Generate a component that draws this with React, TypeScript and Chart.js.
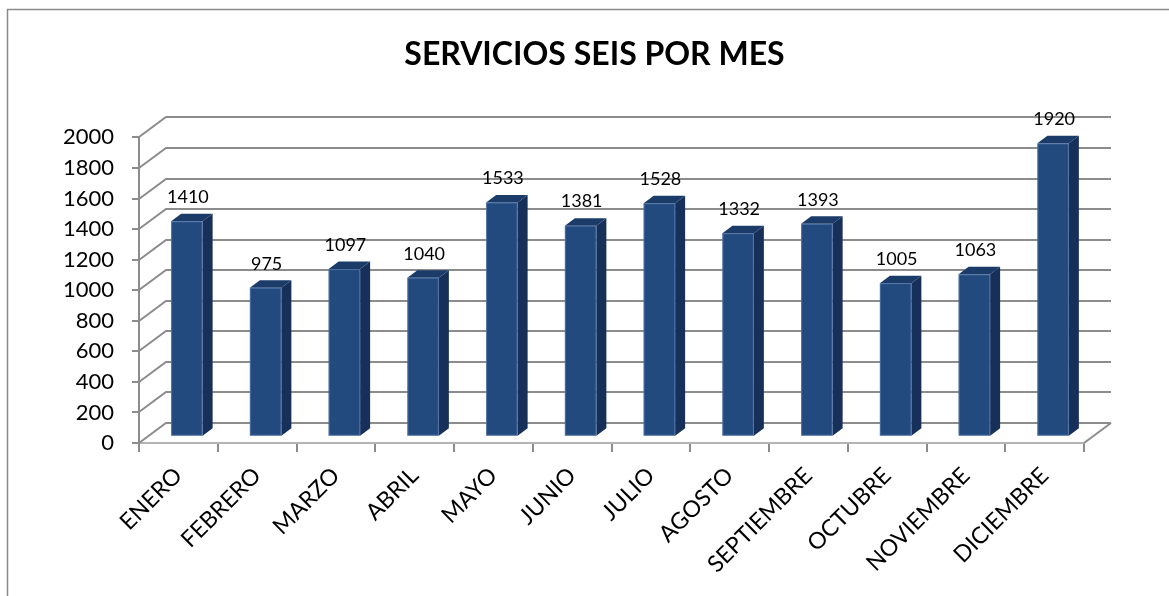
import React, { useEffect, useRef } from 'react';
import { Chart, registerables } from 'chart.js';

Chart.register(...registerables);

const chartTitle = 'SERVICIOS SEIS POR MES';
const months = ['ENERO', 'FEBRERO', 'MARZO', 'ABRIL', 'MAYO', 'JUNIO', 'JULIO', 'AGOSTO', 'SEPTIEMBRE', 'OCTUBRE', 'NOVIEMBRE', 'DICIEMBRE'];
const servicios = [1410, 975, 1097, 1040, 1533, 1381, 1528, 1332, 1393, 1005, 1063, 1920];
const yMin = 0;
const yMax = 2000;
const yStep = 200;

// 3D projection offsets
const DX = 27;
const DY = 20;
const BAR_OX = 8.5;
const BAR_OY = 6.3;
const BAR_DX = 10;
const BAR_DY = 7.5;

const GRID = '#8c8c8c';
const FRONT = '#224a7e';
const SIDE = '#17305a';
const TOP = '#1b3b68';
const FONT = 'Lato, "Open Sans", sans-serif';

const plugin3d = {
  id: 'plugin3d',
  beforeDraw(chart: any) {
    const ctx = chart.ctx;
    ctx.save();
    ctx.fillStyle = '#ffffff';
    ctx.fillRect(0, 0, chart.width, chart.height);
    ctx.strokeStyle = '#8a8a8a';
    ctx.lineWidth = 1.5;
    ctx.beginPath();
    ctx.moveTo(7.5, chart.height + 5);
    ctx.lineTo(7.5, 9.5);
    ctx.lineTo(chart.width + 5, 9.5);
    ctx.stroke();
    ctx.restore();
  },
  beforeDatasetsDraw(chart: any) {
    const { ctx, chartArea, scales } = chart;
    const { left, right, bottom } = chartArea;
    const y = scales.y;
    ctx.save();
    ctx.strokeStyle = GRID;
    ctx.lineWidth = 2;
    y.ticks.forEach((t: any) => {
      const py = Math.round(y.getPixelForValue(t.value));
      ctx.beginPath();
      ctx.moveTo(left, py);
      ctx.lineTo(left + DX, py - DY);
      ctx.lineTo(right + DX, py - DY);
      ctx.stroke();
    });
    ctx.beginPath();
    ctx.moveTo(right, bottom);
    ctx.lineTo(right + DX, bottom - DY);
    ctx.stroke();
    ctx.restore();
  },
  afterDatasetsDraw(chart: any) {
    const { ctx } = chart;
    const meta = chart.getDatasetMeta(0);
    const data = chart.data.datasets[0].data;
    ctx.save();
    meta.data.forEach((el: any, i: number) => {
      const { x, y, base, width } = el.getProps(['x', 'y', 'base', 'width'], true);
      const l = x - width / 2 + BAR_OX;
      const r = x + width / 2 + BAR_OX;
      const t = y - BAR_OY;
      const b = base - BAR_OY;
      // side
      ctx.fillStyle = SIDE;
      ctx.beginPath();
      ctx.moveTo(r, t);
      ctx.lineTo(r + BAR_DX, t - BAR_DY);
      ctx.lineTo(r + BAR_DX, b - BAR_DY);
      ctx.lineTo(r, b);
      ctx.closePath();
      ctx.fill();
      // top
      ctx.fillStyle = TOP;
      ctx.beginPath();
      ctx.moveTo(l, t);
      ctx.lineTo(l + BAR_DX, t - BAR_DY);
      ctx.lineTo(r + BAR_DX, t - BAR_DY);
      ctx.lineTo(r, t);
      ctx.closePath();
      ctx.fill();
      // front
      ctx.fillStyle = FRONT;
      ctx.fillRect(l, t, r - l, b - t);
      ctx.strokeStyle = 'rgba(120,150,200,0.5)';
      ctx.lineWidth = 1;
      ctx.strokeRect(l + 0.5, t + 0.5, r - l - 1, b - t - 1);
      // label
      ctx.fillStyle = '#000';
      ctx.font = `18px ${FONT}`;
      ctx.textAlign = 'center';
      ctx.textBaseline = 'middle';
      ctx.fillText(String(data[i]), x + BAR_OX + 1, t - 24);
    });
    ctx.restore();
  },
};

export default function App() {
  const ref = useRef<HTMLCanvasElement>(null);
  useEffect(() => {
    if (!ref.current) return;
    const chart = new Chart(ref.current, {
      type: 'bar',
      data: {
        labels: months,
        datasets: [
          {
            data: servicios,
            backgroundColor: 'rgba(0,0,0,0)',
            borderWidth: 0,
            barPercentage: 0.4,
            categoryPercentage: 1,
          },
        ],
      },
      options: {
        responsive: false,
        animation: false,
        devicePixelRatio: 1,
        layout: { padding: { left: 20, right: 0, top: 0, bottom: 0 } },
        plugins: {
          legend: { display: false },
          tooltip: { enabled: false },
          title: {
            display: true,
            text: chartTitle,
            color: '#000',
            font: { family: FONT, size: 32, weight: 'bold', lineHeight: 1.2 },
            padding: { top: 35, bottom: 64 },
          },
        },
        scales: {
          x: {
            grid: { drawOnChartArea: false, drawTicks: true, tickLength: 9, color: GRID, lineWidth: 2, offset: true },
            border: { display: true, color: '#b4b4b4', width: 2 },
            ticks: { color: '#000', font: { family: FONT, size: 23 }, maxRotation: 45, minRotation: 45, autoSkip: false, padding: 10 },
            afterFit: (s: any) => { s.height = 153; },
          },
          y: {
            min: yMin,
            max: yMax,
            grid: { drawOnChartArea: false, drawTicks: true, tickLength: 7, color: GRID, lineWidth: 2 },
            border: { display: true, color: GRID, width: 2 },
            ticks: { stepSize: yStep, color: '#000', font: { family: FONT, size: 22 }, padding: 18, callback: (v: any) => String(v) },
            afterFit: (s: any) => { s.width = 119; },
          },
          yRight: {
            type: 'linear',
            position: 'right',
            display: true,
            grid: { display: false },
            border: { display: false },
            ticks: { display: false },
            afterFit: (s: any) => { s.width = 85; },
          },
        },
      },
      plugins: [plugin3d],
    });
    return () => chart.destroy();
  }, []);
  return (
    <div style={{ position: 'fixed', left: 0, top: 0, width: 1169, height: 596, background: '#fff' }}>
      <canvas ref={ref} width={1169} height={596} />
    </div>
  );
}
